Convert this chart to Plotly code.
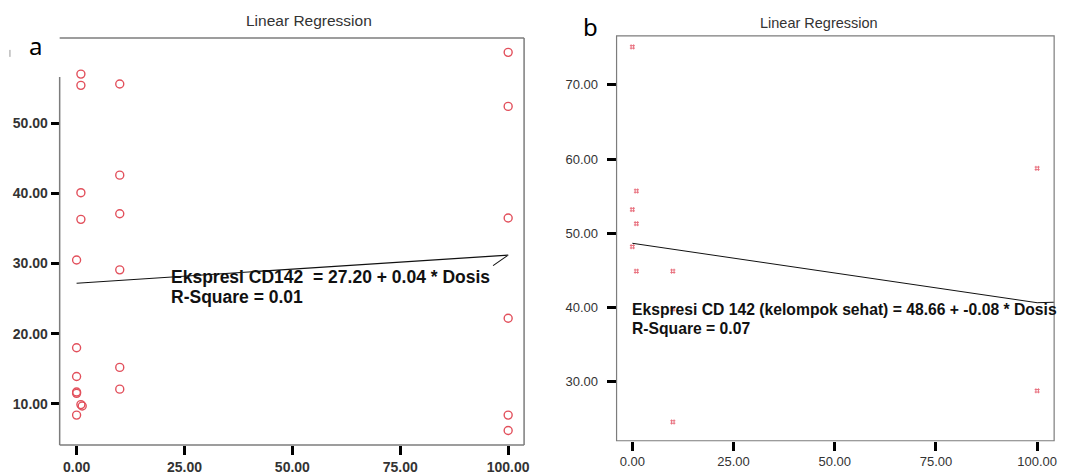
import plotly.graph_objects as go

# ---------------- data ----------------
# Panel a: Ekspresi CD142 vs Dosis
a_dose = [1, 1, 1, 1, 1, 1.3,
          0, 0, 0, 0, 0, 0,
          10, 10, 10, 10, 10, 10,
          100, 100, 100, 100, 100, 100]
a_cd142 = [57.0, 55.4, 40.1, 36.3, 9.9, 9.7,
           30.5, 18.0, 13.9, 11.7, 11.5, 8.4,
           55.6, 42.6, 37.1, 29.1, 15.2, 12.1,
           60.1, 52.4, 36.5, 22.2, 8.4, 6.2]
a_line_x = [0, 100, 96.5]
a_line_y = [27.20, 31.20, 29.7]

# Panel b: Ekspresi CD 142 (kelompok sehat) vs Dosis
b_dose = [0, 0, 0, 1, 1, 1, 10, 10, 10, 100, 100]
b_cd142 = [75.1, 53.2, 48.2, 55.7, 51.3, 44.9, 44.9, 39.8, 24.6, 58.75, 28.8]
b_line_x = [0, 100, 106]
b_line_y = [48.66, 40.66, 40.75]

x_ticks = [0, 25, 50, 75, 100]
x_labels = ["0.00", "25.00", "50.00", "75.00", "100.00"]
a_y_ticks = [10, 20, 30, 40, 50]
a_y_labels = ["10.00", "20.00", "30.00", "40.00", "50.00"]
b_y_ticks = [30, 40, 50, 60, 70]
b_y_labels = ["30.00", "40.00", "50.00", "60.00", "70.00"]

title_text = "Linear Regression"
a_eq = "Ekspresi CD142  = 27.20 + 0.04 * Dosis"
a_r2 = "R-Square = 0.01"
b_eq = "Ekspresi CD 142 (kelompok sehat) = 48.66 + -0.08 * Dosis"
b_r2 = "R-Square = 0.07"

# ---------------- styles ----------------
W, H = 1085, 475
RED_A = "#e2505c"
RED_B = "#e8707e"
FONT = "Liberation Sans, Arial, sans-serif"
FRAME = "#7c7c7c"

fig = go.Figure()

fig.add_trace(go.Scatter(
    x=a_dose, y=a_cd142, mode="markers", xaxis="x", yaxis="y",
    marker=dict(symbol="circle-open", size=8, color=RED_A, line=dict(width=1.4, color=RED_A)),
    showlegend=False, hoverinfo="skip"))
fig.add_trace(go.Scatter(
    x=a_line_x, y=a_line_y, mode="lines", xaxis="x", yaxis="y",
    line=dict(color="#111111", width=1.1), showlegend=False, hoverinfo="skip"))

fig.add_trace(go.Scatter(
    x=b_dose, y=b_cd142, mode="markers", xaxis="x2", yaxis="y2",
    marker=dict(symbol="hash-open", size=5, color=RED_B, line=dict(width=1, color=RED_B)),
    showlegend=False, hoverinfo="skip"))
fig.add_trace(go.Scatter(
    x=b_line_x, y=b_line_y, mode="lines", xaxis="x2", yaxis="y2",
    line=dict(color="#111111", width=1), showlegend=False, hoverinfo="skip"))


def px_x(p):
    return p / W


def px_y(p):
    return 1 - p / H


axis_common = dict(showgrid=False, zeroline=False, showline=False, ticks="outside",
                   tickcolor="black", tickwidth=3, fixedrange=True)

fig.update_layout(
    width=W, height=H,
    margin=dict(l=0, r=0, t=0, b=0),
    paper_bgcolor="white", plot_bgcolor="white",
    xaxis=dict(domain=[px_x(60), px_x(527)], range=[-3.92, 103.69], anchor="y",
               tickvals=x_ticks, ticktext=["<b>%s</b>" % t for t in x_labels], ticklen=9,
               tickfont=dict(family=FONT, size=14, color="#333333"), **axis_common),
    yaxis=dict(domain=[px_y(446), px_y(38)], range=[4.13, 62.16], anchor="x",
               tickvals=a_y_ticks, ticktext=["<b>%s</b>" % t for t in a_y_labels], ticklen=8,
               tickfont=dict(family=FONT, size=14, color="#333333"), **axis_common),
    xaxis2=dict(domain=[px_x(620), px_x(1060)], range=[-3.9, 104.2], anchor="y2",
                tickvals=x_ticks, ticktext=x_labels, ticklen=9,
                tickfont=dict(family=FONT, size=13, color="#333333"), **axis_common),
    yaxis2=dict(domain=[px_y(441.7), px_y(36)], range=[22.07, 76.58], anchor="x2",
                tickvals=b_y_ticks, ticktext=b_y_labels, ticklen=9, ticklabelstandoff=6,
                tickfont=dict(family=FONT, size=13, color="#333333"), **axis_common),
)

shapes = []
# panel a frame (left side partly hidden by the label box)
for (x0, y0, x1, y1) in [(0, 1, 1, 1), (1, 0, 1, 1), (0, 0, 1, 0), (0, 0, 0, 0.904)]:
    shapes.append(dict(type="line", xref="x domain", yref="y domain",
                       x0=x0, y0=y0, x1=x1, y1=y1, line=dict(color=FRAME, width=1.5)))
# panel b frame
shapes.append(dict(type="rect", xref="x2 domain", yref="y2 domain", x0=0, y0=0, x1=1, y1=1,
                   line=dict(color=FRAME, width=1.2)))
# small stray mark at left edge
shapes.append(dict(type="line", xref="paper", yref="paper", x0=px_x(10), x1=px_x(10),
                   y0=px_y(50), y1=px_y(57), line=dict(color="#999999", width=1)))
fig.update_layout(shapes=shapes)

ann = []
ann.append(dict(text=title_text, xref="paper", yref="paper", x=px_x(311), y=px_y(20.7),
                xanchor="center", yanchor="middle", showarrow=False,
                font=dict(family=FONT, size=15.5, color="#333333")))
ann.append(dict(text=title_text, xref="paper", yref="paper", x=px_x(824), y=px_y(22.7),
                xanchor="center", yanchor="middle", showarrow=False,
                font=dict(family=FONT, size=14.5, color="#333333")))
ann.append(dict(text="a", xref="paper", yref="paper", x=px_x(36), y=px_y(46),
                xanchor="center", yanchor="middle", showarrow=False,
                font=dict(family="Noto Sans, sans-serif", size=24, color="black")))
ann.append(dict(text="b", xref="paper", yref="paper", x=px_x(594), y=px_y(27),
                xanchor="center", yanchor="middle", showarrow=False,
                font=dict(family="Noto Sans, sans-serif", size=24, color="black")))
ann.append(dict(text="<b>%s</b>" % a_eq, xref="x", yref="y", x=21.3, y=28.02,
                xanchor="left", yanchor="middle", showarrow=False,
                font=dict(family=FONT, size=17.5, color="#111111")))
ann.append(dict(text="<b>%s</b>" % a_r2, xref="x", yref="y", x=21.3, y=25.18,
                xanchor="left", yanchor="middle", showarrow=False,
                font=dict(family=FONT, size=17.5, color="#111111")))
ann.append(dict(text="<b>%s</b>" % b_eq, xref="x2", yref="y2", x=-0.5, y=39.77,
                xanchor="left", yanchor="middle", showarrow=False,
                font=dict(family=FONT, size=15.7, color="#111111")))
ann.append(dict(text="<b>%s</b>" % b_r2, xref="x2", yref="y2", x=-0.5, y=37.22,
                xanchor="left", yanchor="middle", showarrow=False,
                font=dict(family=FONT, size=15.7, color="#111111")))
fig.update_layout(annotations=ann)

fig.write_html("out.html", config={"displayModeBar": False},
               post_script="document.body.style.margin='0';document.body.style.padding='0';")
